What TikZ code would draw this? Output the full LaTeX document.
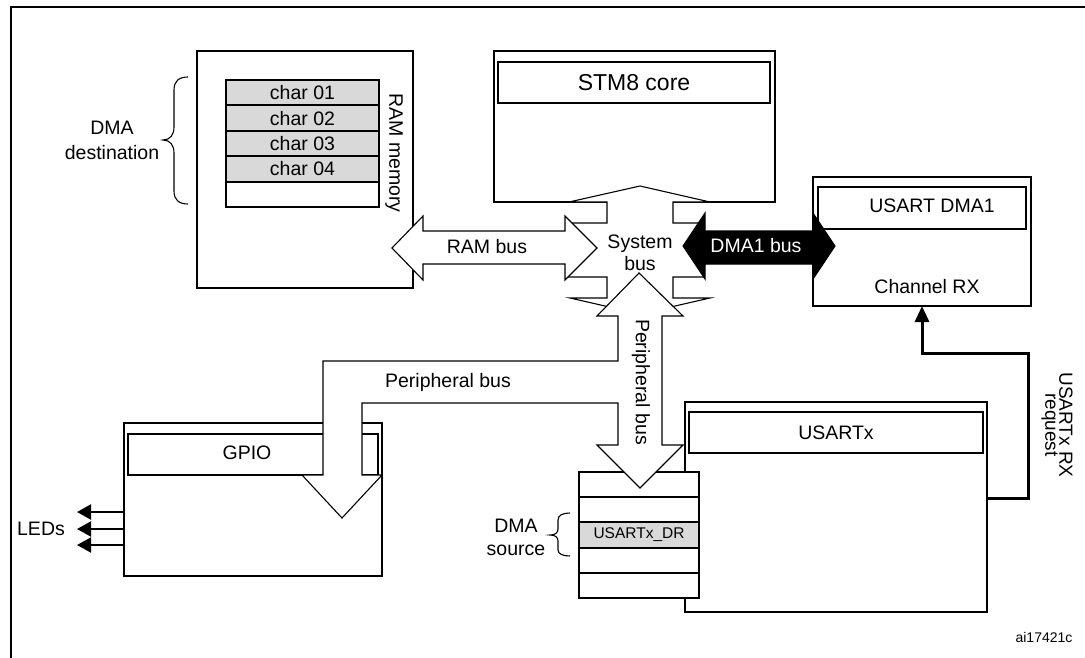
\documentclass[tikz,border=0pt]{standalone}
\usepackage{fontspec}
\setmainfont{Liberation Sans}
\usetikzlibrary{arrows.meta}
\definecolor{cellgray}{RGB}{217,217,217}
\begin{document}
\begin{tikzpicture}[x=1pt,y=-1pt,
  box/.style={draw, line width=1.1pt, inner sep=0pt, outer sep=0pt, anchor=north west},
  inbox/.style={draw, line width=2.2pt, inner sep=0pt, outer sep=0pt, anchor=north west, font=\fontsize{19.5}{23}\selectfont},
  cell/.style={draw, line width=2pt, inner sep=0pt, outer sep=0pt, anchor=north west, fill=cellgray, font=\fontsize{19.5}{23}\selectfont},
  lbl/.style={inner sep=0pt, font=\fontsize{19.5}{23}\selectfont, align=center},
  bus/.style={draw, line width=1.1pt, fill=white, line join=miter},
  ledarrow/.style={line width=2pt, -{Triangle[length=14pt,width=15pt]}},
  reqline/.style={line width=3pt, line join=miter, -{Triangle[length=16pt,width=14pt]}},
  brc/.style={line width=1.1pt}
]
\useasboundingbox (0,0) rectangle (1085,657);
% frame
\coordinate (ftl) at (11,7);
\coordinate (ftr) at (1090,7);
\coordinate (fbl) at (11,662);
\draw[line width=2.2pt] (ftr) -- (ftl) -- (fbl);

% RAM memory
\node[box, minimum width=216pt, minimum height=237pt] (ram) at (197,51) {};
\node[cell, minimum width=153pt, minimum height=25.4pt] (c1) at (226,80) {char 01};
\node[cell, minimum width=153pt, minimum height=25.4pt] (c2) at (226,105.4) {char 02};
\node[cell, minimum width=153pt, minimum height=25.4pt] (c3) at (226,130.8) {char 03};
\node[cell, minimum width=153pt, minimum height=25.4pt] (c4) at (226,156.2) {char 04};
\node[cell, fill=white, minimum width=153pt, minimum height=25.4pt] (c5) at (226,181.6) {};
\node[lbl, rotate=-90] (ramlbl) at (394,153) {RAM memory};
\draw[brc] (188,77) .. controls (179,77) and (174,81) .. (174,90) -- (174,127) .. controls (174,135) and (170,140) .. (163,140) .. controls (170,140) and (174,145) .. (174,153) -- (174,191) .. controls (174,200) and (179,204) .. (188,204);
\node[lbl, font=\fontsize{19.5}{25}\selectfont] (dmadst) at (112,140) {DMA\\destination};

% STM8 core
\node[box, minimum width=281pt, minimum height=151pt] (cpu) at (494,51) {};
\node[inbox, minimum width=272pt, minimum height=41pt, font=\fontsize{23}{26}\selectfont] (core) at (498,62) {STM8 core};

% USART DMA1
\node[box, minimum width=218pt, minimum height=129pt] (dma) at (813,177) {};
\node[inbox, minimum width=208pt, minimum height=42pt] (dmain) at (818,187) {};
\node[lbl] (dmat) at (932,206) {USART DMA1};
\node[lbl] (chrx) at (927,287) {Channel RX};

% GPIO
\node[box, minimum width=258pt, minimum height=153pt] (gpio) at (124,423) {};
\node[inbox, minimum width=250pt, minimum height=41pt] (gpioin) at (128,434) {};
\node[lbl] (gpiot) at (247,453) {GPIO};
\coordinate (led1) at (77,512);
\coordinate (led2) at (77,529);
\coordinate (led3) at (77,545);
\draw[ledarrow] (gpio.west |- led1) -- (led1);
\draw[ledarrow] (gpio.west |- led2) -- (led2);
\draw[ledarrow] (gpio.west |- led3) -- (led3);
\node[lbl] (leds) at (41,529) {LEDs};

% USARTx
\node[box, minimum width=302pt, minimum height=210pt] (usartx) at (685,402) {};
\node[inbox, minimum width=294pt, minimum height=41pt] (usartxin) at (689,412) {USARTx};

% register stack
\node[cell, fill=white, minimum width=120pt, minimum height=25.2pt] (s1) at (579,472) {};
\node[cell, fill=white, minimum width=120pt, minimum height=25.2pt] (s2) at (579,497.2) {};
\node[cell, minimum width=120pt, minimum height=25.2pt, font=\fontsize{15.5}{18}\selectfont] (s3) at (579,522.4) {USARTx\_DR};
\node[cell, fill=white, minimum width=120pt, minimum height=25.2pt] (s4) at (579,547.6) {};
\node[cell, fill=white, minimum width=120pt, minimum height=25.2pt] (s5) at (579,572.8) {};
\draw[brc] (570,513) .. controls (563,513) and (558,515) .. (558,520) -- (558,529) .. controls (558,533) and (555,535) .. (550,535) .. controls (555,535) and (558,537) .. (558,541) -- (558,550) .. controls (558,554) and (563,556) .. (570,556);
\node[lbl] (dmasrc) at (516,537) {DMA\\source};

% system bus
\draw[bus] (640,186) -- (710,202) -- (673,202) -- (673,223) -- (704,223) -- (704,277) -- (673,277) -- (673,298) -- (710,298) -- (640,314) -- (570,298) -- (607,298) -- (607,277) -- (566,277) -- (566,223) -- (607,223) -- (607,202) -- (569,202) -- cycle;
% RAM bus
\draw[bus] (392,248) -- (423,216) -- (423,231) -- (565,231) -- (565,216) -- (597,248) -- (565,280) -- (565,264) -- (423,264) -- (423,280) -- cycle;
% DMA1 bus
\draw[line width=1.1pt, fill=black] (683,246) -- (705,213) -- (705,231) -- (813,231) -- (813,213) -- (835,246) -- (813,279) -- (813,264) -- (705,264) -- (705,279) -- cycle;
% peripheral bus
\draw[bus] (639,273) -- (683,316) -- (662,316) -- (662,445) -- (683,445) -- (640,488) -- (597,445) -- (618,445) -- (618,403) -- (362,403) -- (362,475) -- (382,475) -- (342,518) -- (302,475) -- (323,475) -- (323,361) -- (618,361) -- (618,316) -- (597,316) -- cycle;

\node[lbl, font=\fontsize{19.5}{22}\selectfont] (sysbus) at (640,253) {System\\bus};
\node[lbl] (rambus) at (487,247) {RAM bus};
\node[lbl, text=white] (dmabus) at (756,246) {DMA1 bus};
\node[lbl] (perh) at (448,382) {Peripheral bus};
\node[lbl, rotate=-90] (perv) at (641,382) {Peripheral bus};

% USARTx RX request
\coordinate (rqs) at (987,498);
\coordinate (rqt) at (1028,353);
\draw[reqline] (usartx.east |- rqs) -| (rqt) -| (dma.south);
\node[rotate=-90, inner sep=0pt, align=center, font=\fontsize{19}{14}\selectfont] (rql) at (1057,425) {USARTx RX\\request};

\node[inner sep=0pt, font=\fontsize{14}{16}\selectfont] (fig) at (1044,637) {ai17421c};
\end{tikzpicture}
\end{document}
